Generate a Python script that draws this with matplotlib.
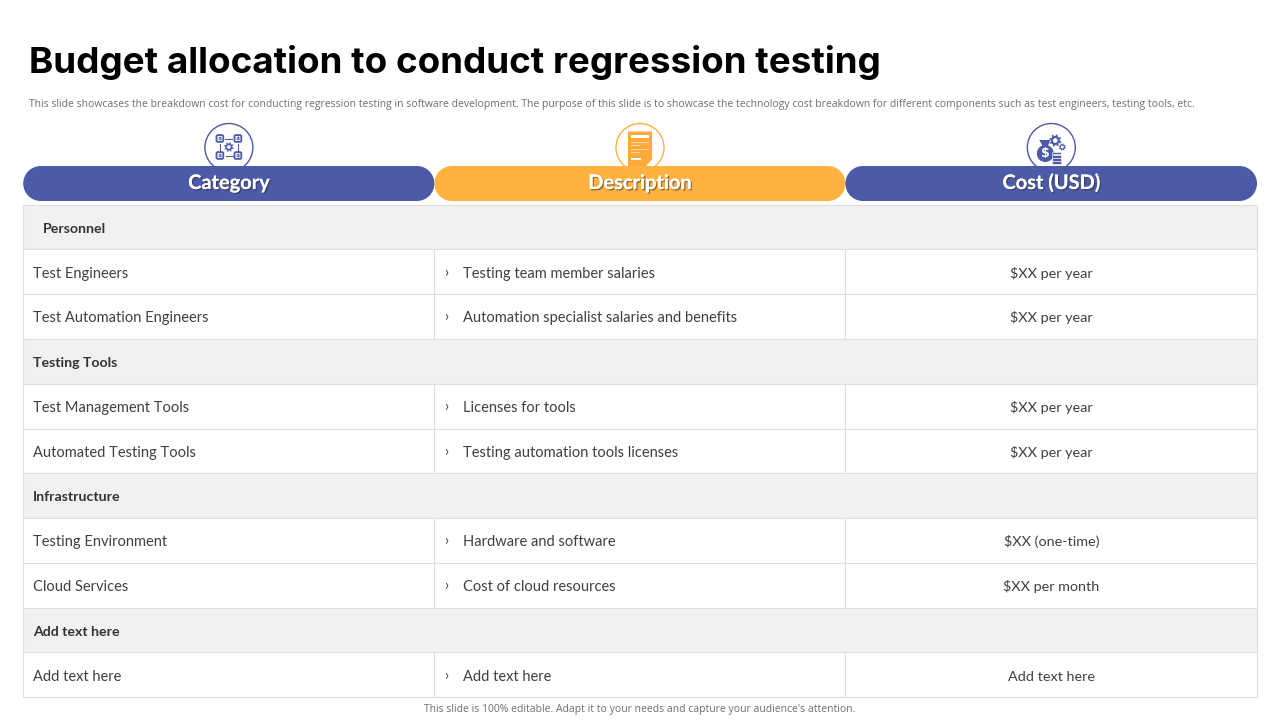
import numpy as np
import matplotlib
matplotlib.use("Agg")
import matplotlib.pyplot as plt
import matplotlib.patheffects as pe
from matplotlib.patches import Rectangle, FancyBboxPatch, Circle, Polygon

title = "Budget allocation to conduct regression testing"
subtitle = ("This slide showcases the breakdown cost for conducting regression testing in software development. "
            "The purpose of this slide is to showcase the technology cost breakdown for different components such as test engineers, testing tools, etc.")
footer = "This slide is 100% editable. Adapt it to your needs and capture your audience's attention."
headers = ["Category", "Description", "Cost (USD)"]
header_colors = ["#4C5AA7", "#FFB240", "#4C5AA7"]
rows = [
    ("Personnel", None, None),
    ("Test Engineers", "Testing team member salaries", "$XX per year"),
    ("Test Automation Engineers", "Automation specialist salaries and benefits", "$XX per year"),
    ("Testing Tools", None, None),
    ("Test Management Tools", "Licenses for tools", "$XX per year"),
    ("Automated Testing Tools", "Testing automation tools licenses", "$XX per year"),
    ("Infrastructure", None, None),
    ("Testing Environment", "Hardware and software", "$XX (one-time)"),
    ("Cloud Services", "Cost of cloud resources", "$XX per month"),
    ("Add text here", None, None),
    ("Add text here", "Add text here", "Add text here"),
]

BODY = ["Lato", "DejaVu Sans"]
fig = plt.figure(figsize=(12.8, 7.2), dpi=100, facecolor="white")
ax = fig.add_axes([0, 0, 1, 1])
ax.set_xlim(0, 1280); ax.set_ylim(720, 0); ax.axis("off")

ax.text(29, 73, title, fontsize=26.5, fontweight="bold", family=["Inter", "DejaVu Sans"], color="black", va="baseline", ha="left")
ax.text(29, 107, subtitle, fontsize=7.47, family=["Open Sans"], color="#6f6f6f", va="baseline", ha="left")
ax.text(640, 712, footer, fontsize=7.5, family=["Open Sans"], color="#6f6f6f", va="baseline", ha="center")

col_x = np.array([22.8, 434, 845, 1256.6])
col_c = (col_x[:-1] + col_x[1:]) / 2
pill_x = col_x + 0.4
pill_c = col_c + 0.5
top, bottom = 204.6, 697.2
rh = (bottom - top) / len(rows)
GRID = "#DEDEDE"


def gear(cx, cy, r, color, z=4):
    n = 8
    ang = np.linspace(0, 2 * np.pi, n * 4, endpoint=False) + np.pi / 16
    rad = np.tile([r, r, r * 0.72, r * 0.72], n)
    ax.add_patch(Polygon(np.c_[cx + rad * np.cos(ang), cy + rad * np.sin(ang)], fc=color, ec="white", lw=0.3, zorder=z))
    ax.add_patch(Circle((cx, cy), r * 0.36, fc="white", ec="none", zorder=z + 0.1))


# header pills and icon circles
for i, (h, c) in enumerate(zip(headers, header_colors)):
    xc = pill_c[i]
    ax.add_patch(Circle((xc, 147.5), 24, fc="white", ec=c, lw=1.0, zorder=2))
    r = 17.5
    ax.add_patch(Rectangle((pill_x[i] + r, 166), pill_x[i+1] - pill_x[i] - 2*r, 35, fc=c, ec="none", zorder=3))
    for end in (pill_x[i] + r, pill_x[i+1] - r):
        ax.add_patch(Circle((end, 166 + r), r, fc=c, ec="none", zorder=3))
    ax.text(xc, 189, h, fontsize=14.4, fontweight="bold", family=["Lato"], color="white", ha="center", va="baseline", zorder=4,
            path_effects=[pe.withSimplePatchShadow(offset=(1, -1), shadow_rgbFace="#333333", alpha=0.55), pe.Normal()])

B = "#4C5AA7"
# icon 1: network of dollar nodes around a gear
xc, yc = pill_c[0], 147
for dx, dy in [(-9, -8.5), (9, -8.5), (-9, 8.5), (9, 8.5)]:
    ax.add_patch(FancyBboxPatch((xc+dx-2.6, yc+dy-2.6), 5.2, 5.2, boxstyle="round,pad=0.8,rounding_size=1.5", fc="white", ec=B, lw=1.3, zorder=4))
    ax.text(xc+dx, yc+dy+0.2, "$", color=B, fontsize=4.5, fontweight="bold", ha="center", va="center", zorder=5)
gear(xc, yc, 5.2, B)
ax.plot([xc-4, xc+3], [yc-8.5, yc-8.5], color=B, lw=.8, zorder=4)
ax.plot([xc-3, xc+4], [yc+8.5, yc+8.5], color=B, lw=.8, zorder=4)
ax.plot([xc-9, xc-9], [yc-3.5, yc+3.5], color=B, lw=.8, zorder=3.5)
ax.plot([xc+9, xc+9], [yc-3.5, yc+3.5], color=B, lw=.8, zorder=3.5)

# icon 2: document
xc, yc = pill_c[1], 147.5
ax.add_patch(Polygon([(xc-12, yc-16), (xc+12, yc-16), (xc+12, yc+12), (xc+6, yc+18.5), (xc-12, yc+18.5)], fc="#FFA93A", ec="none", zorder=4))
ax.add_patch(Rectangle((xc-9, yc-13), 18, 3, fc="white", ec="none", zorder=5))
ax.add_patch(Rectangle((xc-9, yc+10), 10, 2, fc="white", ec="none", zorder=5))
for dy, w in [(-6, 18), (-3, 9), (1, 18), (4, 9)]:
    ax.add_patch(Rectangle((xc-9, yc+dy), w, 1, fc="#FFD79C", ec="none", zorder=5))

# icon 3: money bag, coins and gears
xc, yc = pill_c[2], 147.5
ax.add_patch(Circle((xc-6, yc+6), 8.5, fc=B, ec="none", zorder=4))
ax.add_patch(Polygon([(xc-12, yc-7.5), (xc-1, yc-7.5), (xc-3.5, yc-1), (xc-8.5, yc-1)], fc=B, ec="none", zorder=4))
ax.text(xc-6, yc+6.5, "$", color="white", fontsize=9, fontweight="bold", ha="center", va="center", zorder=5)
for dy in [4, 7.2, 10.4, 13.6]:
    ax.add_patch(Rectangle((xc+0.5, yc+dy), 9, 2.8, fc=B, ec="white", lw=.4, zorder=4))
gear(xc+4, yc-7, 6.5, B)
gear(xc+11, yc-0.5, 4, B)

# table
LW = 0.8
for i, (a, b, c) in enumerate(rows):
    y0 = top + i * rh
    yb = y0 + rh / 2 + 5.8
    if b is None:
        ax.add_patch(Rectangle((col_x[0], y0), col_x[-1] - col_x[0], rh, fc="#F1F1F1", ec=GRID, lw=LW, zorder=1))
        x = 43 if i == 0 else 33
        ax.text(x, yb, a, fontsize=10.2, fontweight="bold", family=BODY, color="#333333", va="baseline", ha="left", zorder=2)
    else:
        for k in range(3):
            ax.add_patch(Rectangle((col_x[k], y0), col_x[k+1] - col_x[k], rh, fc="white", ec=GRID, lw=LW, zorder=1))
        ax.text(33, yb, a, fontsize=10.5, family=BODY, color="#404040", va="baseline", ha="left", zorder=2)
        ax.text(444.5, yb - 1, "\u203a", fontsize=10.5, family=BODY, color="#404040", va="baseline", ha="left", zorder=2)
        ax.text(463, yb, b, fontsize=10.55, family=BODY, color="#404040", va="baseline", ha="left", zorder=2)
        ax.text(pill_c[2], yb, c, fontsize=10.35, family=BODY, color="#404040", va="baseline", ha="center", zorder=2)

fig.savefig("out.png", dpi=100, facecolor="white")
